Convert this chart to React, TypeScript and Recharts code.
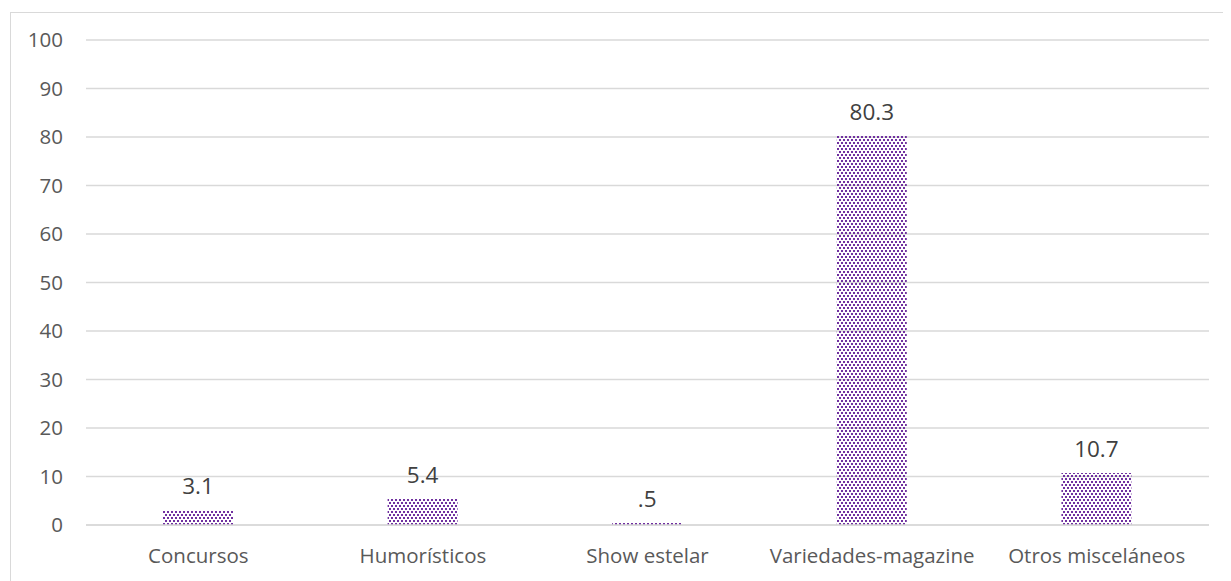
import React from 'react';
import { BarChart, Bar, XAxis, YAxis, CartesianGrid, LabelList } from 'recharts';

const categories = ['Concursos', 'Humorísticos', 'Show estelar', 'Variedades-magazine', 'Otros misceláneos'];
const values = [3.1, 5.4, 0.5, 80.3, 10.7];
const yTicks = [0, 10, 20, 30, 40, 50, 60, 70, 80, 90, 100];

const data = categories.map((name, i) => ({ name, value: values[i] }));

const FONT = '"Open Sans", sans-serif';

// Excel-style labels drop the leading zero (".5")
function fmt(v: number) {
  const s = v.toFixed(1);
  return s.startsWith('0') ? s.slice(1) : s;
}

export default function App() {
  return (
    <div
      style={{
        marginLeft: 2,
        marginTop: 4,
        width: 1220,
        height: 569,
        border: '1px solid #d9d9d9',
        borderRight: 'none',
        borderBottom: 'none',
        background: '#fff',
        fontFamily: FONT,
      }}
    >
      <svg width={0} height={0} style={{ position: 'absolute' }}>
        <defs>
          <pattern id="dots" width={4} height={6} patternUnits="userSpaceOnUse">
            <rect x={0} y={0} width={2} height={2} fill="#7030A0" />
            <rect x={2} y={3} width={2} height={2} fill="#7030A0" />
          </pattern>
        </defs>
      </svg>
      <BarChart
        width={1220}
        height={569}
        data={data}
        margin={{ top: 27, right: 22, left: 15, bottom: 17 }}
      >
        <CartesianGrid vertical={false} stroke="#d9d9d9" strokeWidth={1.3} />
        <XAxis
          dataKey="name"
          height={40}
          tickSize={0}
          tickMargin={23}
          axisLine={{ stroke: '#d9d9d9', strokeWidth: 1.3 }}
          tickLine={false}
          tick={{ fontSize: 20.5, fill: '#595959', fontFamily: FONT }}
          interval={0}
        />
        <YAxis
          width={60}
          domain={[0, 100]}
          ticks={yTicks}
          tickSize={0}
          tickMargin={23}
          axisLine={false}
          tickLine={false}
          tick={{ fontSize: 20.5, fill: '#595959', fontFamily: FONT }}
        />
        <Bar dataKey="value" fill="url(#dots)" barSize={70} isAnimationActive={false}>
          <LabelList
            dataKey="value"
            position="top"
            offset={16}
            formatter={(v: number) => fmt(v)}
            style={{ fontSize: 22.5, fill: '#404040', fontFamily: FONT }}
          />
        </Bar>
      </BarChart>
    </div>
  );
}
